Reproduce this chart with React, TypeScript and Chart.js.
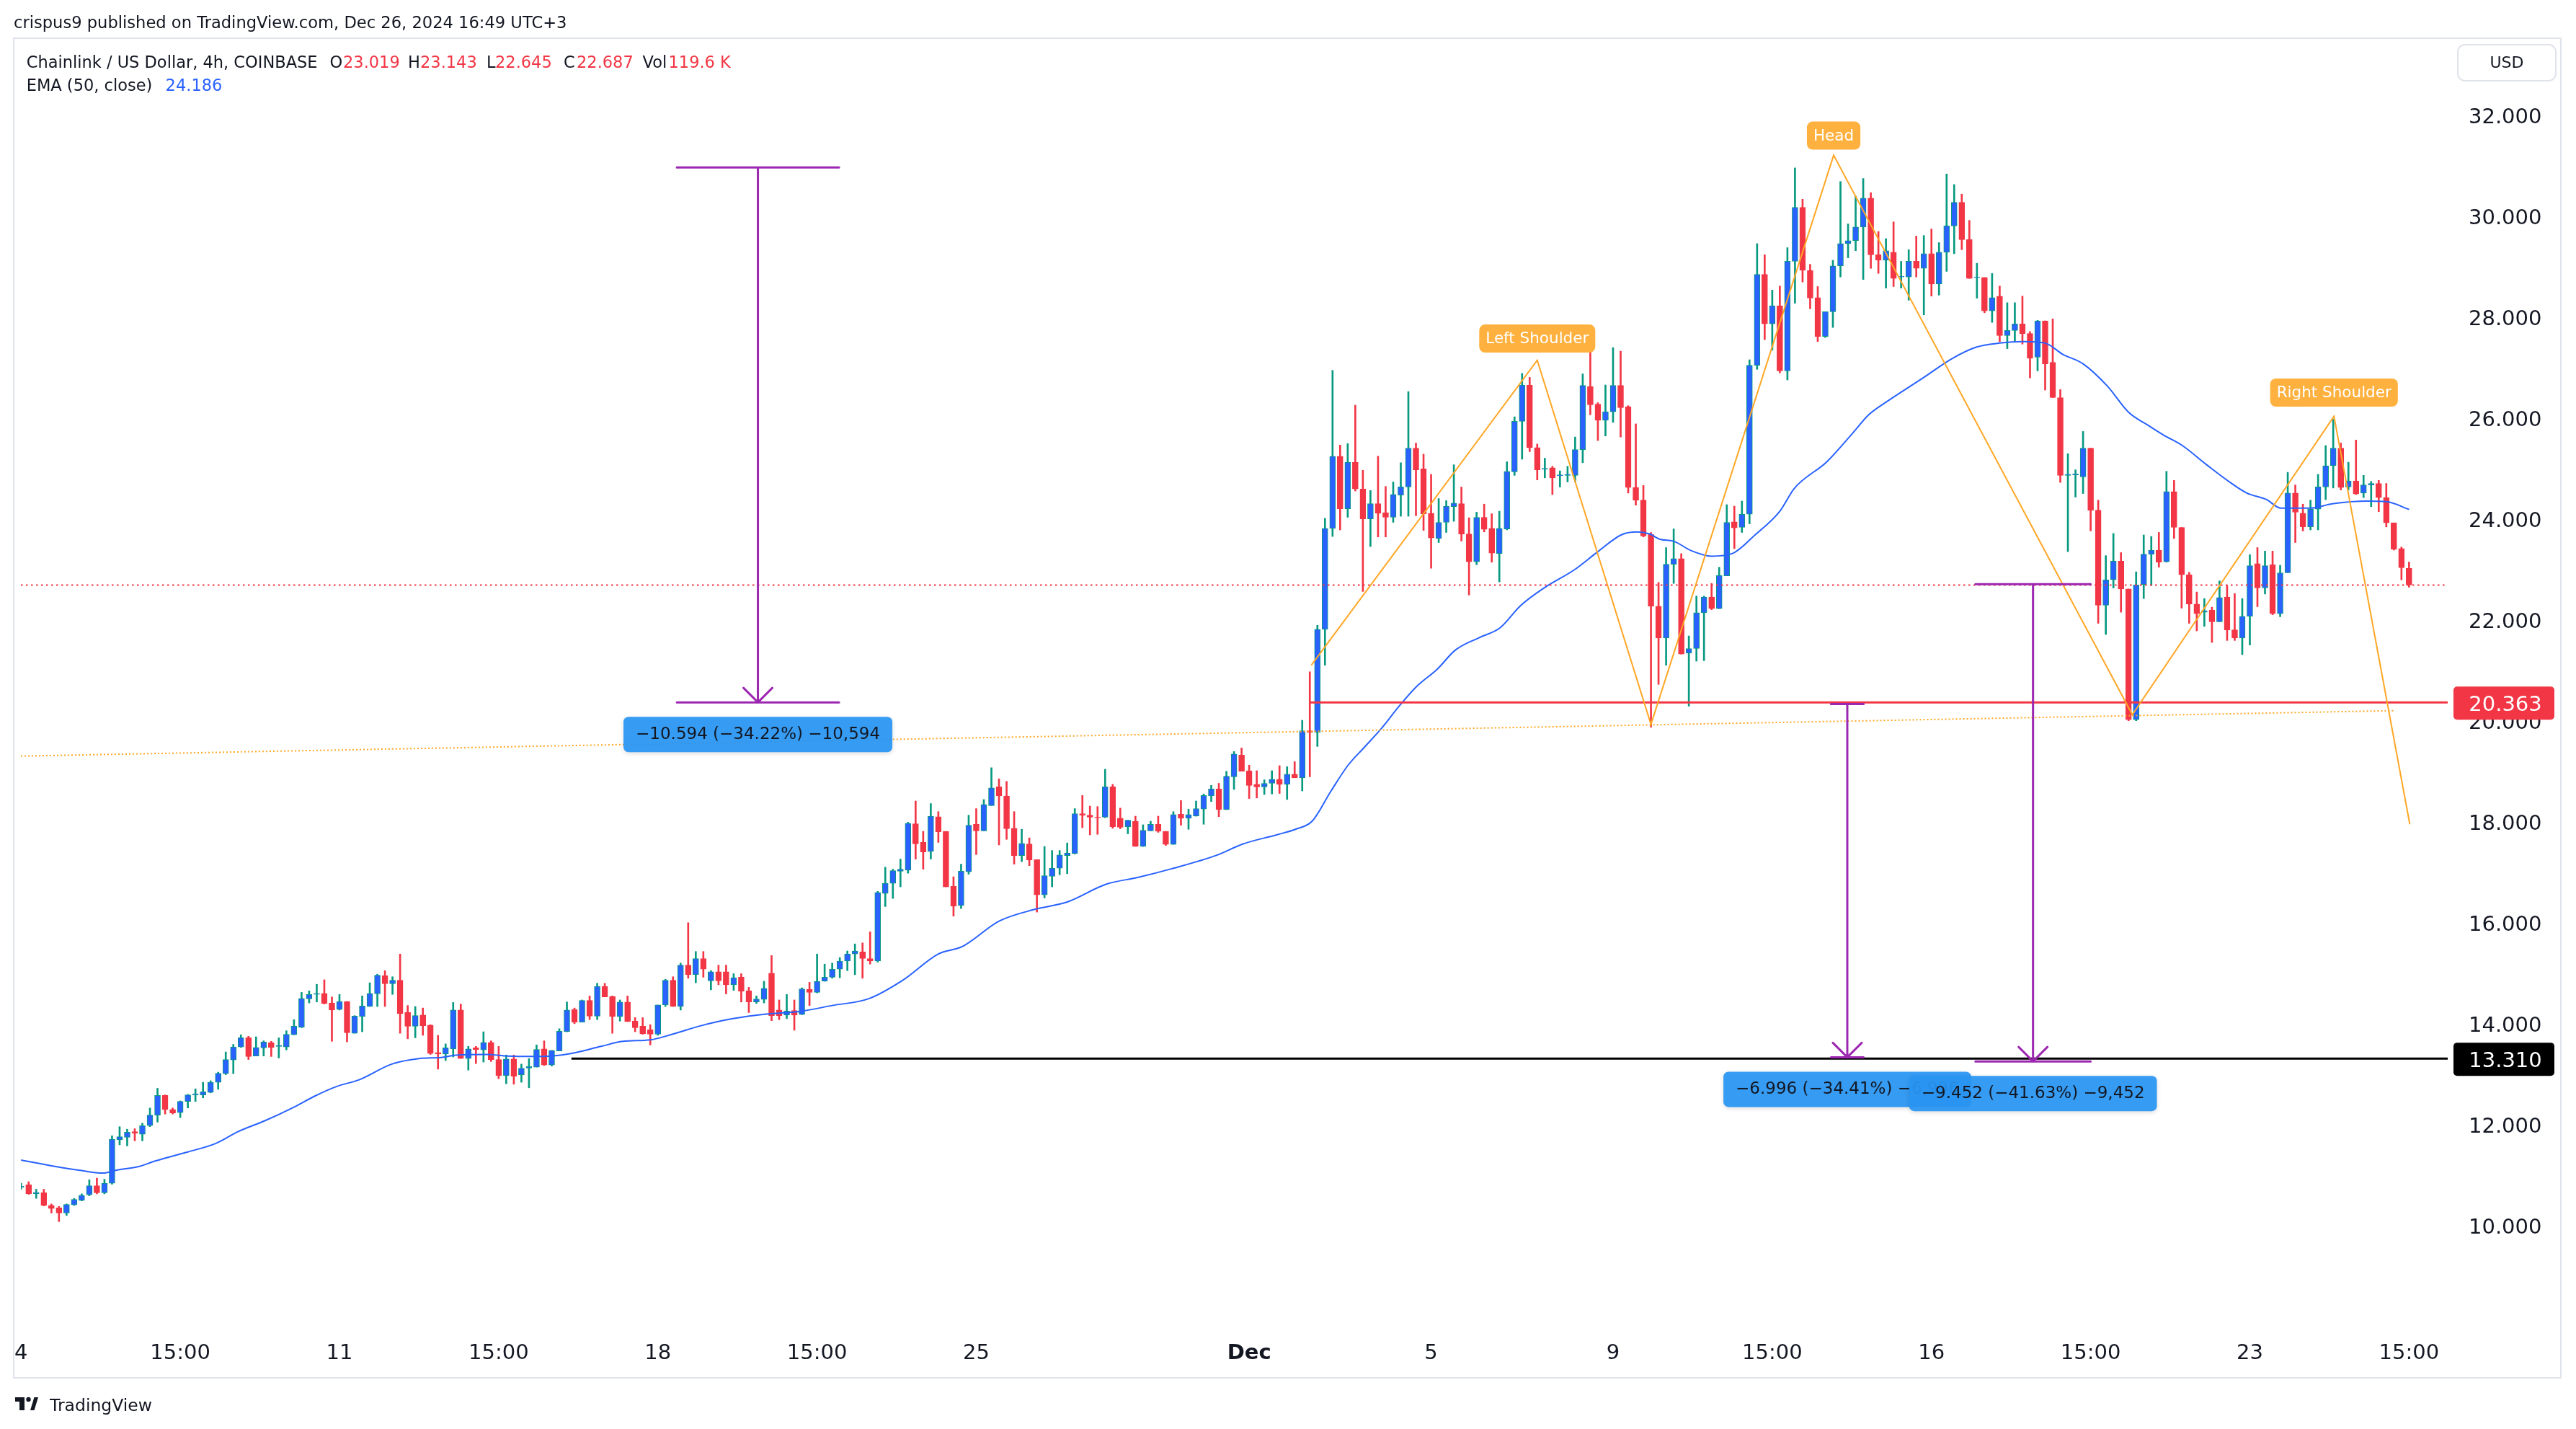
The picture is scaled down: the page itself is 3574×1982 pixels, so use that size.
import React, { useEffect, useRef } from "react";
import { Chart, registerables } from "chart.js";

Chart.register(...registerables);

const FONT = '"DejaVu Sans", sans-serif';
const W = 3574;
const H = 1982;

// ---- Candle data (4h, Nov 4 03:00 -> Dec 26 15:00, UTC+3) ----
const opens = [
  10.76, 10.81, 10.63, 10.65, 10.40, 10.35, 10.25, 10.41, 10.50, 10.61,
  10.79, 10.65, 10.84, 11.70, 11.75, 11.86, 11.81, 11.98, 12.19, 12.58,
  12.30, 12.24, 12.46, 12.59, 12.59, 12.64, 12.84, 13.01, 13.28, 13.54,
  13.72, 13.36, 13.52, 13.62, 13.55, 13.54, 13.78, 13.93, 14.49, 14.58,
  14.60, 14.41, 14.28, 14.44, 13.81, 14.14, 14.34, 14.59, 14.95, 14.79,
  14.86, 14.22, 13.95, 14.17, 13.97, 13.43, 13.40, 13.50, 14.27, 13.31,
  13.52, 13.48, 13.63, 13.29, 12.97, 13.30, 12.99, 13.12, 13.14, 13.50,
  13.18, 13.46, 13.84, 14.28, 14.03, 14.46, 14.15, 14.74, 14.54, 14.14,
  14.43, 14.05, 13.95, 13.88, 13.79, 14.37, 14.86, 14.34, 15.16, 14.97,
  15.29, 14.85, 15.03, 15.03, 14.77, 14.92, 14.65, 14.43, 14.48, 15.00,
  14.27, 14.17, 14.26, 14.18, 14.68, 14.62, 14.84, 14.92, 15.08, 15.24,
  15.38, 15.42, 15.29, 15.24, 16.58, 16.78, 17.02, 17.04, 17.96, 17.59,
  17.41, 18.10, 17.81, 16.72, 16.34, 17.01, 17.95, 17.82, 18.32, 18.69,
  18.51, 17.87, 17.33, 17.56, 17.25, 16.55, 16.92, 17.08, 17.33, 17.37,
  18.16, 18.13, 18.09, 18.09, 18.69, 18.07, 17.90, 18.01, 17.51, 17.82,
  17.95, 17.81, 17.55, 18.15, 18.07, 18.11, 18.25, 18.51, 18.65, 18.24,
  18.89, 19.32, 19.01, 18.74, 18.69, 18.76, 18.84, 18.74, 18.94, 18.87,
  19.80, 19.77, 21.81, 23.81, 25.24, 24.20, 25.12, 24.59, 24.00, 24.30,
  24.12, 24.03, 24.47, 24.63, 25.40, 24.99, 24.11, 23.61, 23.93, 24.24,
  24.30, 23.70, 23.15, 24.03, 23.81, 23.31, 23.80, 24.93, 25.93, 26.65,
  25.41, 24.98, 25.01, 24.85, 24.86, 24.86, 25.37, 26.62, 26.27, 25.95,
  26.12, 26.64, 26.22, 24.62, 24.37, 23.69, 22.27, 21.64, 23.10, 23.21,
  21.34, 21.43, 22.14, 22.45, 22.22, 22.87, 23.94, 23.83, 24.09, 27.04,
  28.84, 27.86, 28.22, 26.93, 29.10, 30.17, 28.92, 28.38, 27.61, 28.10,
  29.01, 29.45, 29.51, 29.78, 30.35, 29.23, 29.12, 29.28, 28.79, 28.79,
  29.10, 28.96, 29.25, 28.65, 29.28, 29.80, 30.27, 29.53, 28.78, 28.78,
  28.12, 28.41, 27.63, 27.73, 27.86, 27.67, 27.20, 27.92, 27.10, 26.40,
  24.86, 24.87, 24.83, 25.40, 24.17, 22.29, 22.79, 23.16, 22.61, 20.02,
  22.70, 23.30, 23.38, 23.15, 24.54, 23.83, 22.89, 22.31, 22.15, 22.19,
  21.96, 22.45, 21.80, 21.64, 22.07, 23.11, 22.63, 23.09, 22.12, 22.93,
  24.51, 24.11, 23.84, 24.19, 24.63, 25.05, 25.40, 24.63, 24.75, 24.51,
  24.67, 24.70, 24.42, 23.92, 23.41, 23.019,
];
const highs = [
  10.84, 10.87, 10.72, 10.72, 10.43, 10.38, 10.43, 10.54, 10.63, 10.91,
  10.94, 10.92, 11.78, 11.96, 11.91, 11.92, 12.03, 12.33, 12.72, 12.59,
  12.33, 12.47, 12.60, 12.71, 12.84, 12.87, 13.04, 13.44, 13.59, 13.78,
  13.75, 13.74, 13.66, 13.65, 13.72, 13.86, 14.08, 14.62, 14.65, 14.78,
  14.87, 14.53, 14.58, 14.44, 14.16, 14.55, 14.81, 14.98, 15.05, 14.93,
  15.38, 14.36, 14.34, 14.31, 13.98, 13.77, 13.60, 14.42, 14.39, 13.55,
  13.55, 13.84, 13.66, 13.55, 13.38, 13.38, 13.20, 13.31, 13.58, 13.66,
  13.47, 13.90, 14.43, 14.31, 14.47, 14.55, 14.80, 14.80, 14.55, 14.47,
  14.55, 14.12, 14.12, 13.98, 14.37, 14.88, 14.93, 15.20, 16.00, 15.43,
  15.43, 15.05, 15.16, 15.16, 14.99, 14.99, 14.72, 14.55, 14.84, 15.35,
  14.47, 14.58, 14.47, 14.71, 14.82, 15.38, 15.18, 15.20, 15.31, 15.44,
  15.58, 15.60, 15.82, 16.62, 17.10, 17.06, 17.26, 17.99, 18.41, 17.81,
  18.36, 18.20, 17.81, 16.91, 17.16, 18.13, 18.26, 18.44, 19.07, 18.85,
  18.80, 18.20, 17.85, 17.68, 17.25, 17.51, 17.43, 17.43, 17.58, 18.26,
  18.52, 18.31, 18.30, 19.04, 18.74, 18.27, 18.03, 18.11, 17.94, 18.01,
  18.11, 17.81, 18.20, 18.42, 18.25, 18.41, 18.55, 18.72, 18.76, 19.00,
  19.39, 19.46, 19.12, 19.01, 18.83, 19.01, 19.11, 19.09, 19.19, 20.01,
  20.97, 21.89, 24.01, 26.94, 25.46, 25.49, 26.25, 24.96, 24.56, 25.24,
  24.64, 24.73, 25.11, 26.52, 25.50, 25.28, 24.88, 24.40, 24.36, 25.07,
  24.63, 24.02, 24.13, 24.29, 24.10, 24.15, 25.13, 26.02, 26.88, 26.80,
  25.48, 25.20, 25.04, 24.95, 25.04, 25.62, 26.87, 27.42, 26.30, 26.65,
  27.39, 27.32, 26.24, 25.88, 24.66, 23.73, 22.74, 23.43, 23.80, 23.31,
  21.68, 22.47, 22.47, 22.72, 23.04, 24.28, 24.25, 24.35, 27.15, 29.45,
  29.23, 28.53, 28.61, 29.37, 30.95, 30.33, 29.04, 28.60, 28.10, 29.12,
  30.68, 29.84, 30.39, 30.74, 30.46, 29.69, 29.55, 29.88, 29.10, 29.33,
  29.60, 29.61, 29.74, 29.47, 30.83, 30.62, 30.43, 29.91, 29.06, 28.78,
  28.86, 28.61, 28.28, 28.28, 28.41, 27.71, 27.93, 27.92, 27.96, 26.56,
  25.29, 24.97, 25.73, 25.40, 24.37, 23.27, 23.71, 23.33, 22.61, 22.95,
  23.68, 23.65, 23.73, 24.94, 24.76, 23.83, 22.94, 22.55, 22.42, 22.25,
  22.77, 22.68, 22.52, 22.42, 23.29, 23.43, 23.36, 23.36, 23.08, 24.92,
  24.67, 24.29, 24.37, 24.88, 25.45, 25.97, 25.50, 25.12, 25.56, 24.86,
  24.74, 24.76, 24.70, 23.92, 23.44, 23.143,
];
const lows = [
  10.72, 10.62, 10.54, 10.39, 10.25, 10.08, 10.20, 10.40, 10.49, 10.59,
  10.63, 10.63, 10.82, 11.60, 11.58, 11.68, 11.68, 11.96, 12.05, 12.21,
  12.21, 12.14, 12.33, 12.46, 12.53, 12.63, 12.70, 12.99, 13.01, 13.53,
  13.29, 13.36, 13.36, 13.35, 13.32, 13.48, 13.78, 13.92, 14.41, 14.43,
  14.39, 13.65, 14.27, 13.64, 13.81, 13.84, 14.34, 14.34, 14.34, 14.58,
  13.81, 13.70, 13.72, 13.77, 13.39, 13.10, 13.27, 13.34, 13.31, 13.08,
  13.21, 13.24, 13.25, 12.91, 12.81, 12.80, 12.84, 12.73, 13.14, 13.17,
  13.16, 13.46, 13.84, 14.00, 14.03, 14.08, 14.08, 14.53, 13.81, 14.05,
  14.04, 13.84, 13.79, 13.58, 13.77, 14.34, 14.34, 14.27, 14.90, 14.81,
  14.92, 14.67, 14.77, 14.59, 14.66, 14.43, 14.22, 14.40, 14.41, 14.06,
  14.08, 14.10, 13.87, 14.18, 14.36, 14.61, 14.84, 14.90, 14.91, 15.05,
  14.97, 14.90, 15.18, 15.22, 16.32, 16.48, 16.71, 16.98, 17.26, 17.06,
  17.26, 17.59, 16.71, 16.13, 16.28, 16.96, 17.35, 17.82, 18.32, 17.54,
  17.65, 17.16, 17.21, 17.13, 16.21, 16.49, 16.71, 16.95, 16.97, 17.36,
  17.88, 17.74, 17.75, 18.08, 17.87, 17.86, 17.76, 17.51, 17.51, 17.82,
  17.79, 17.53, 17.55, 17.93, 17.85, 18.11, 17.95, 18.40, 18.10, 18.24,
  18.64, 19.00, 18.46, 18.47, 18.54, 18.55, 18.56, 18.44, 18.87, 18.61,
  18.89, 19.49, 21.10, 23.65, 23.78, 24.03, 24.55, 22.56, 23.45, 23.64,
  23.64, 23.93, 24.05, 24.05, 24.06, 23.77, 23.02, 23.53, 23.73, 23.95,
  23.56, 22.49, 23.09, 23.74, 23.14, 22.75, 23.78, 24.86, 25.18, 25.33,
  24.77, 24.81, 24.48, 24.63, 24.73, 24.73, 25.11, 26.06, 25.55, 25.64,
  25.91, 25.62, 24.51, 24.27, 23.64, 19.87, 20.72, 21.10, 22.72, 21.32,
  20.29, 21.18, 21.19, 22.20, 22.22, 22.87, 23.41, 23.73, 23.90, 26.96,
  27.55, 27.34, 26.89, 26.75, 28.27, 28.69, 28.16, 27.51, 27.59, 27.79,
  28.79, 29.17, 29.31, 28.74, 28.96, 28.86, 28.57, 28.60, 28.57, 28.33,
  28.79, 28.04, 28.41, 28.43, 28.90, 29.25, 29.33, 28.76, 28.37, 28.08,
  27.89, 27.51, 27.37, 27.50, 27.46, 26.79, 26.93, 26.55, 26.40, 24.72,
  23.35, 24.43, 24.50, 23.76, 21.93, 21.71, 22.63, 22.15, 20.00, 20.00,
  22.42, 22.68, 23.04, 23.14, 23.61, 22.23, 21.93, 21.78, 21.87, 21.55,
  21.96, 21.59, 21.59, 21.31, 21.50, 22.26, 22.51, 22.10, 22.06, 22.93,
  23.53, 23.76, 23.78, 23.78, 24.38, 24.61, 24.57, 24.57, 24.48, 24.42,
  24.24, 24.14, 23.84, 23.38, 22.79, 22.645,
];
const closes = [
  10.78, 10.63, 10.66, 10.40, 10.34, 10.25, 10.42, 10.52, 10.60, 10.79,
  10.65, 10.84, 11.71, 11.76, 11.85, 11.83, 11.98, 12.19, 12.58, 12.30,
  12.23, 12.46, 12.59, 12.61, 12.65, 12.84, 13.02, 13.29, 13.54, 13.72,
  13.35, 13.53, 13.64, 13.53, 13.57, 13.79, 13.95, 14.50, 14.58, 14.60,
  14.40, 14.27, 14.44, 13.82, 14.15, 14.35, 14.60, 14.96, 14.79, 14.86,
  14.20, 13.95, 14.16, 13.96, 13.41, 13.40, 13.52, 14.27, 13.31, 13.50,
  13.49, 13.63, 13.29, 12.97, 13.30, 12.96, 13.12, 13.15, 13.49, 13.18,
  13.47, 13.85, 14.27, 14.03, 14.46, 14.15, 14.74, 14.53, 14.14, 14.43,
  14.04, 13.92, 13.80, 13.79, 14.37, 14.86, 14.34, 15.16, 14.97, 15.29,
  15.08, 15.03, 14.85, 14.77, 14.91, 14.64, 14.43, 14.49, 14.70, 14.16,
  14.16, 14.25, 14.17, 14.69, 14.62, 14.84, 14.92, 15.08, 15.24, 15.38,
  15.44, 15.29, 15.24, 16.60, 16.78, 17.03, 17.06, 17.97, 17.56, 17.40,
  18.11, 17.80, 16.71, 16.33, 17.02, 17.93, 17.82, 18.34, 18.67, 18.51,
  17.86, 17.33, 17.57, 17.24, 16.55, 16.93, 17.08, 17.34, 17.38, 18.16,
  18.13, 18.09, 18.08, 18.69, 17.90, 17.89, 18.03, 17.51, 17.83, 17.95,
  17.81, 17.55, 18.14, 18.07, 18.14, 18.26, 18.52, 18.65, 18.24, 18.90,
  19.34, 19.00, 18.72, 18.69, 18.76, 18.84, 18.74, 18.94, 18.87, 19.80,
  19.77, 21.81, 23.81, 25.24, 24.20, 25.12, 24.59, 24.00, 24.30, 24.11,
  24.03, 24.48, 24.63, 25.40, 24.97, 24.10, 23.62, 23.93, 24.25, 24.31,
  23.70, 23.15, 24.03, 23.79, 23.32, 23.81, 24.94, 25.93, 26.65, 25.41,
  24.97, 25.00, 24.81, 24.87, 24.88, 25.37, 26.64, 26.26, 25.95, 26.12,
  26.64, 26.20, 24.62, 24.37, 23.66, 22.27, 21.64, 23.10, 23.21, 21.32,
  21.43, 22.14, 22.45, 22.22, 22.88, 23.93, 23.82, 24.09, 27.04, 28.84,
  27.86, 28.22, 26.93, 29.10, 30.17, 28.92, 28.37, 27.61, 28.10, 29.01,
  29.45, 29.51, 29.78, 30.35, 29.23, 29.12, 29.31, 28.76, 28.80, 29.10,
  28.96, 29.25, 28.65, 29.28, 29.80, 30.27, 29.53, 28.76, 28.79, 28.12,
  28.38, 27.63, 27.73, 27.86, 27.67, 27.18, 27.92, 27.07, 26.40, 24.86,
  24.88, 24.89, 25.40, 24.17, 22.29, 22.79, 23.16, 22.61, 20.02, 22.69,
  23.30, 23.38, 23.14, 24.54, 23.83, 22.89, 22.31, 22.12, 22.18, 21.96,
  22.44, 21.80, 21.64, 22.07, 23.07, 22.63, 23.07, 22.12, 22.93, 24.51,
  24.13, 23.84, 24.19, 24.63, 25.05, 25.40, 24.62, 24.75, 24.49, 24.67,
  24.70, 24.42, 23.92, 23.40, 23.03, 22.687,
];

// EMA(50, close): candle index -> value
const emaIdx = [
  0, 5.4, 7.6, 10.8, 12.6, 15.5, 17.7, 22, 25.7, 28.6,
  32.2, 35.9, 38.8, 41.7, 44.6, 48.9, 52.5, 55.4, 57.6, 61.3,
  64.2, 67.1, 70, 72.9, 76.5, 79.4, 83, 85.9, 89.7, 93.9,
  98.3, 102.6, 107, 111.9, 116.3, 121, 124.2, 129, 133.6, 138,
  143.1, 147.4, 151.8, 157.6, 161.2, 165.6, 168.1, 170.3, 172.8, 175,
  177.1, 179.4, 181.9, 184.1, 186.8, 189.2, 192.4, 195.1, 197.8, 201,
  204.9, 208, 211.2, 213.2, 214.8, 216.3, 217.9, 220.3, 223, 225.7,
  228.8, 232, 233.9, 238.2, 241.4, 243.8, 246.1, 250.9, 254.8, 257.9,
  261, 264.2, 267, 269.3, 272, 275.2, 278, 280.7, 282.6, 285.1,
  288.3, 291.4, 293.6, 296.2, 298.1, 301.9, 305, 309.4, 312, 315,
];
const emaVals = [
  11.30, 11.15, 11.10, 11.04, 11.10, 11.17, 11.28, 11.46, 11.63, 11.86,
  12.08, 12.34, 12.57, 12.76, 12.89, 13.20, 13.31, 13.33, 13.38, 13.39,
  13.36, 13.35, 13.36, 13.42, 13.55, 13.65, 13.68, 13.79, 13.96, 14.10,
  14.19, 14.24, 14.36, 14.50, 14.86, 15.38, 15.53, 16.03, 16.26, 16.41,
  16.76, 16.90, 17.07, 17.33, 17.56, 17.74, 17.85, 18.01, 18.61, 19.11,
  19.46, 19.84, 20.31, 20.68, 21.02, 21.40, 21.65, 21.84, 22.28, 22.64,
  22.99, 23.35, 23.69, 23.74, 23.70, 23.59, 23.56, 23.37, 23.26, 23.31,
  23.69, 24.15, 24.60, 25.13, 25.66, 26.07, 26.32, 26.79, 27.18, 27.40,
  27.48, 27.51, 27.48, 27.26, 27.07, 26.63, 26.11, 25.84, 25.66, 25.45,
  25.07, 24.72, 24.51, 24.38, 24.21, 24.21, 24.30, 24.35, 24.34, 24.186,
];

// axes
const xTickIdx = [0, 21, 42, 63, 84, 105, 126, 162, 186, 210, 231, 252, 273, 294, 315];
const xTickLabels = ["4", "15:00", "11", "15:00", "18", "15:00", "25", "Dec", "5", "9", "15:00", "16", "15:00", "23", "15:00"];
const yTickValues = [10, 12, 14, 16, 18, 20, 22, 24, 26, 28, 30, 32];

// drawings (data coordinates: candle index, price)
const lastPrice = 22.687;
const necklinePrice = 20.363;
const necklineStartIdx = 170;
const targetPrice = 13.31;
const targetStartIdx = 72.6;
const trendIdx = [-0.02, 313];
const trendVals = [19.3, 20.2];
const hsIdx = [170.2, 200, 215, 239.1, 278.5, 305.1, 315.1];
const hsVals = [21.1, 27.14, 19.93, 31.2, 20.12, 26.03, 17.95];
const patternText = ["Left Shoulder", "Head", "Right Shoulder"];
const patternIdx = [200, 239.1, 305.1];
const patternVals = [27.57, 31.59, 26.5];
const measureIdx = [97.2, 240.9, 265.4];
const measureHalfSpan = [10.7, 2.15, 7.6];
const measureFrom = [30.958, 20.331, 22.705];
const measureTo = [20.364, 13.335, 13.253];
const measureText = [
  "\u221210.594 (\u221234.22%) \u221210,594",
  "\u22126.996 (\u221234.41%) \u22126,996",
  "\u22129.452 (\u221241.63%) \u22129,452",
];

// header
const publishLine = "crispus9 published on TradingView.com, Dec 26, 2024 16:49 UTC+3";
const symbolTitle = "Chainlink / US Dollar, 4h, COINBASE";
const legendKeys = ["O", "H", "L", "C", "Vol"];
const volLabel = "119.6\u00a0K";
const emaTitle = "EMA (50, close)";

const UP_BODY = "#2962ff";
const UP_EDGE = "#089981";
const DOWN = "#f23645";
const ORANGE = "#ffa726";
const PURPLE = "#9c27b0";

function rr(ctx: CanvasRenderingContext2D, x: number, y: number, w: number, h: number, r: number) {
  ctx.beginPath();
  ctx.moveTo(x + r, y);
  ctx.arcTo(x + w, y, x + w, y + h, r);
  ctx.arcTo(x + w, y + h, x, y + h, r);
  ctx.arcTo(x, y + h, x, y, r);
  ctx.arcTo(x, y, x + w, y, r);
  ctx.closePath();
}

const overlayPlugin = {
  id: "overlay",
  afterDatasetsDraw(chart: any) {
    const { ctx, chartArea: a } = chart;
    const xs = chart.scales.x;
    const ys = chart.scales.y;
    const px = (v: number) => xs.getPixelForValue(v);
    const py = (v: number) => ys.getPixelForValue(v);
    ctx.save();
    ctx.beginPath();
    ctx.rect(a.left, a.top, a.right - a.left, a.bottom - a.top);
    ctx.clip();

    // last price dotted line
    ctx.strokeStyle = DOWN;
    ctx.lineWidth = 2;
    ctx.setLineDash([2.5, 4.5]);
    ctx.beginPath();
    ctx.moveTo(a.left, py(lastPrice));
    ctx.lineTo(a.right, py(lastPrice));
    ctx.stroke();

    // orange dotted trend
    ctx.strokeStyle = ORANGE;
    ctx.lineWidth = 2;
    ctx.setLineDash([2, 3]);
    ctx.beginPath();
    ctx.moveTo(px(trendIdx[0]), py(trendVals[0]));
    ctx.lineTo(px(trendIdx[1]), py(trendVals[1]));
    ctx.stroke();
    ctx.setLineDash([]);

    // neckline (red) and target (black)
    ctx.lineWidth = 3;
    ctx.strokeStyle = DOWN;
    ctx.beginPath();
    ctx.moveTo(px(necklineStartIdx), py(necklinePrice));
    ctx.lineTo(a.right, py(necklinePrice));
    ctx.stroke();
    ctx.strokeStyle = "#000000";
    ctx.beginPath();
    ctx.moveTo(px(targetStartIdx), py(targetPrice));
    ctx.lineTo(a.right, py(targetPrice));
    ctx.stroke();

    // head & shoulders polyline
    ctx.strokeStyle = ORANGE;
    ctx.lineWidth = 2;
    ctx.lineJoin = "miter";
    ctx.beginPath();
    hsIdx.forEach((v, k) => {
      const X = px(v);
      const Y = py(hsVals[k]);
      if (k === 0) ctx.moveTo(X, Y);
      else ctx.lineTo(X, Y);
    });
    ctx.stroke();

    // measure arrows
    ctx.strokeStyle = PURPLE;
    ctx.lineWidth = 3;
    ctx.lineCap = "round";
    measureIdx.forEach((v, k) => {
      const cx = px(v);
      const hw = px(v + measureHalfSpan[k]) - cx;
      const yt = py(measureFrom[k]);
      const yb = py(measureTo[k]);
      ctx.beginPath();
      ctx.moveTo(cx - hw, yt);
      ctx.lineTo(cx + hw, yt);
      ctx.moveTo(cx - hw, yb);
      ctx.lineTo(cx + hw, yb);
      ctx.moveTo(cx, yt);
      ctx.lineTo(cx, yb);
      ctx.moveTo(cx - 20, yb - 20);
      ctx.lineTo(cx, yb);
      ctx.lineTo(cx + 20, yb - 20);
      ctx.stroke();
    });
    ctx.lineCap = "butt";

    // measure labels
    ctx.font = `23px ${FONT}`;
    ctx.textAlign = "center";
    ctx.textBaseline = "middle";
    measureIdx.forEach((v, k) => {
      const cx = px(v);
      const top = py(measureTo[k]) + 20;
      const tw = ctx.measureText(measureText[k]).width;
      const bw = tw + 34;
      ctx.shadowColor = "rgba(0,0,0,0.15)";
      ctx.shadowBlur = 6;
      ctx.shadowOffsetY = 2;
      ctx.fillStyle = "rgba(41,150,243,0.93)";
      rr(ctx, cx - bw / 2, top, bw, 49, 7);
      ctx.fill();
      ctx.shadowColor = "transparent";
      ctx.fillStyle = "#131722";
      ctx.fillText(measureText[k], cx, top + 25);
    });

    // pattern labels
    ctx.font = `21.5px ${FONT}`;
    patternText.forEach((t, k) => {
      const cx = px(patternIdx[k]);
      const cy = py(patternVals[k]);
      const tw = ctx.measureText(t).width;
      const bw = tw + 18;
      ctx.fillStyle = "#ffb13f";
      rr(ctx, cx - bw / 2, cy - 19.5, bw, 39, 8);
      ctx.fill();
      ctx.fillStyle = "#ffffff";
      ctx.fillText(t, cx, cy + 1);
    });
    ctx.restore();
  },
  afterDraw(chart: any) {
    const { ctx, chartArea: a } = chart;
    const ys = chart.scales.y;
    ctx.save();
    // hide tick text spilling left of the frame
    ctx.fillStyle = "#ffffff";
    ctx.fillRect(0, a.bottom + 2, 19, 68);

    // price labels on axis
    const axisLabel = (v: number, bg: string) => {
      const cy = ys.getPixelForValue(v) + 1;
      ctx.fillStyle = bg;
      rr(ctx, 3404, cy - 23, 140, 46, 5);
      ctx.fill();
      ctx.fillStyle = "#ffffff";
      ctx.font = `29px ${FONT}`;
      ctx.textAlign = "center";
      ctx.textBaseline = "middle";
      ctx.fillText(v.toFixed(3), 3476, cy + 3);
    };
    axisLabel(necklinePrice, DOWN);
    axisLabel(targetPrice, "#000000");

    // USD button
    ctx.strokeStyle = "#e0e3eb";
    ctx.lineWidth = 2;
    rr(ctx, 3410, 62, 136, 50, 10);
    ctx.stroke();
    ctx.fillStyle = "#131722";
    ctx.font = `22px ${FONT}`;
    ctx.textAlign = "center";
    ctx.textBaseline = "middle";
    ctx.fillText("USD", 3478, 88);

    // frame
    ctx.strokeStyle = "#e0e3eb";
    ctx.lineWidth = 2;
    ctx.strokeRect(19, 53, 3534, 1858);

    // TradingView logo glyph
    ctx.fillStyle = "#131722";
    ctx.fillRect(21, 1938, 13, 6);
    ctx.fillRect(27, 1938, 7, 18);
    ctx.beginPath();
    ctx.arc(39.5, 1941, 3.2, 0, Math.PI * 2);
    ctx.fill();
    ctx.beginPath();
    ctx.moveTo(42, 1956);
    ctx.lineTo(47.5, 1956);
    ctx.lineTo(53, 1938);
    ctx.lineTo(47.5, 1938);
    ctx.closePath();
    ctx.fill();
    ctx.restore();
  },
};

export default function App() {
  const ref = useRef<HTMLCanvasElement>(null);

  useEffect(() => {
    const canvas = ref.current;
    if (!canvas) return;
    const up = opens.map((o, i) => closes[i] >= o);
    const bodyData = opens.map((o, i) => ({ x: i, y: [Math.min(o, closes[i]), Math.max(o, closes[i])] }));
    const wickData = opens.map((_, i) => ({ x: i, y: [lows[i], highs[i]] }));
    const emaData = emaIdx.map((v, k) => ({ x: v, y: emaVals[k] }));

    const chart = new Chart(canvas, {
      type: "bar",
      data: {
        datasets: [
          {
            type: "line",
            data: emaData,
            borderColor: "#2962ff",
            borderWidth: 2,
            pointRadius: 0,
            cubicInterpolationMode: "monotone",
            fill: false,
            order: 0,
          } as any,
          {
            type: "bar",
            data: bodyData,
            backgroundColor: up.map((u) => (u ? UP_BODY : DOWN)),
            borderColor: up.map((u) => (u ? UP_EDGE : DOWN)),
            borderWidth: 1,
            borderSkipped: false,
            barThickness: 8,
            grouped: false,
            order: 1,
          } as any,
          {
            type: "bar",
            data: wickData,
            backgroundColor: up.map((u) => (u ? UP_EDGE : DOWN)),
            borderWidth: 0,
            barThickness: 2,
            grouped: false,
            order: 2,
          } as any,
        ],
      },
      options: {
        animation: false,
        responsive: false,
        devicePixelRatio: 1,
        events: [],
        layout: { padding: { left: 20, top: 55, right: 21, bottom: 71 } },
        plugins: { legend: { display: false }, tooltip: { enabled: false }, title: { display: false } },
        scales: {
          x: {
            type: "linear",
            min: -0.02,
            max: 320.1,
            offset: false,
            bounds: "data",
            grid: { display: false, drawTicks: false, tickLength: 0 },
            border: { display: false },
            ticks: {
              autoSkip: false,
              maxRotation: 0,
              minRotation: 0,
              padding: 20,
              color: "#131722",
              font: (c: any) => ({
                family: FONT,
                size: 29,
                weight: c.index === 7 ? "bold" : "normal",
              }),
              callback: (_v: any, idx: number) => xTickLabels[idx] ?? "",
            },
            afterBuildTicks: (s: any) => {
              s.ticks = xTickIdx.map((v) => ({ value: v }));
            },
            afterFit: (s: any) => {
              s.height = 71;
            },
          },
          y: {
            type: "linear",
            position: "right",
            min: 8.0,
            max: 33.49,
            bounds: "data",
            grid: { display: false, drawTicks: false, tickLength: 0 },
            border: { display: false },
            ticks: {
              padding: 29,
              crossAlign: "center",
              labelOffset: 4,
              color: "#131722",
              font: { family: FONT, size: 29 },
              callback: (v: any) => Number(v).toFixed(3),
            },
            afterBuildTicks: (s: any) => {
              s.ticks = yTickValues.map((v) => ({ value: v }));
            },
            afterFit: (s: any) => {
              s.width = 157;
            },
          },
        },
      } as any,
      plugins: [overlayPlugin],
    });
    return () => chart.destroy();
  }, []);

  const last = opens.length - 1;
  const legendVals = [
    opens[last].toFixed(3),
    highs[last].toFixed(3),
    lows[last].toFixed(3),
    closes[last].toFixed(3),
    volLabel,
  ];
  const keyLeft = [457.6, 566, 675, 782, 891.6];
  const valLeft = [476, 583, 687, 800, 927.5];
  const txt = (size: number, color = "#131722"): React.CSSProperties => ({
    position: "absolute",
    font: `${size}px ${FONT}`,
    lineHeight: `${size}px`,
    color,
    whiteSpace: "nowrap",
  });

  return (
    <div
      style={{
        position: "absolute",
        left: 0,
        top: 0,
        width: W,
        height: H,
        overflow: "hidden",
        background: "#ffffff",
      }}
    >
      <canvas ref={ref} width={W} height={H} style={{ position: "absolute", left: 0, top: 0, width: W, height: H }} />
      <div style={{ ...txt(22.6), left: 19, top: 19.5 }}>{publishLine}</div>
      <div style={{ ...txt(22.5), left: 36.7, top: 75 }}>{symbolTitle}</div>
      {legendKeys.map((k, i) => (
        <React.Fragment key={k}>
          <div style={{ ...txt(22.5), left: keyLeft[i], top: 75 }}>{k}</div>
          <div style={{ ...txt(22.5, DOWN), left: valLeft[i], top: 75 }}>{legendVals[i]}</div>
        </React.Fragment>
      ))}
      <div style={{ ...txt(22.5), left: 36.7, top: 107 }}>{emaTitle}</div>
      <div style={{ ...txt(22.5, "#2962ff"), left: 229.6, top: 107 }}>{emaVals[emaVals.length - 1].toFixed(3)}</div>
      <div style={{ ...txt(23.5), left: 69, top: 1937.6 }}>TradingView</div>
    </div>
  );
}
